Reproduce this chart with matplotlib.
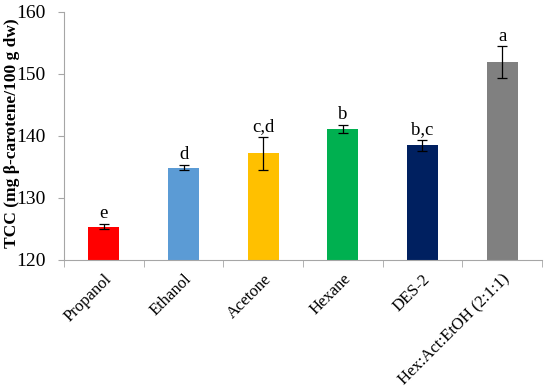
import numpy as np
import matplotlib.pyplot as plt

plt.rcParams['font.family'] = 'Liberation Serif'
plt.rcParams['mathtext.fontset'] = 'stix'

solvents = ['Propanol', 'Ethanol', 'Acetone', 'Hexane', 'DES-2', 'Hex:Act:EtOH (2:1:1)']
tcc = [125.4, 134.9, 137.2, 141.1, 138.5, 151.9]
err = [0.35, 0.4, 2.65, 0.65, 0.85, 2.55]
letters = ['e', 'd', 'c,d', 'b', 'b,c', 'a']
colors = ['#FF0000', '#5B9BD5', '#FFC000', '#00B050', '#002060', '#808080']

fig = plt.figure(figsize=(5.5, 3.92), dpi=100)
ax = fig.add_axes([64/550, 1 - 260/392, (542 - 64)/550, (260 - 12)/392])

x = np.arange(len(solvents))
ax.bar(x, tcc, width=0.39, color=colors, zorder=2)
ax.errorbar(x, tcc, yerr=err, fmt='none', ecolor='black', elinewidth=0.9,
            capsize=3.5, capthick=0.9, zorder=3)

for xi, v, e, lab in zip(x, tcc, err, letters):
    ax.text(xi, v + e + 0.3, lab, ha='center', va='bottom', fontsize=13.5)

ax.set_ylim(120, 160)
ax.set_yticks([120, 130, 140, 150, 160])
ax.set_xlim(-0.5, len(solvents) - 0.5)
ax.set_xticks(x)
ax.set_xticklabels(solvents, rotation=45, ha='right', rotation_mode='anchor', fontsize=12)
ax.set_xticks(np.arange(-0.5, len(solvents)), minor=True)
ax.tick_params(axis='x', which='major', length=0, pad=8)
ax.tick_params(axis='x', which='minor', length=5, color='#A6A6A6', direction='out')
ax.tick_params(axis='y', length=4, color='#A6A6A6', labelsize=14, pad=9)

for s in ['top', 'right']:
    ax.spines[s].set_visible(False)
for s in ['left', 'bottom']:
    ax.spines[s].set_color('#A6A6A6')

ax.set_ylabel('TCC (mg β-carotene/100 g dw)', fontsize=12.5, fontweight='bold')
ax.yaxis.set_label_coords(-0.093, 0.51)

fig.savefig('out.png', dpi=100)
